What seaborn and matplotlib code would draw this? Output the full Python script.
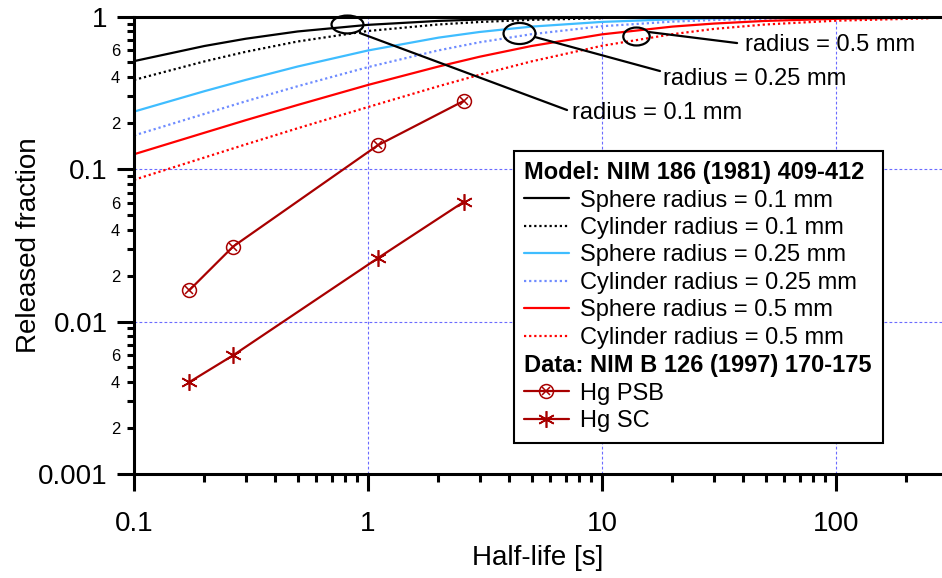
import numpy as np
import matplotlib
matplotlib.use('Agg')
import matplotlib.pyplot as plt
import seaborn as sns
from matplotlib.lines import Line2D
from matplotlib.path import Path
from matplotlib.transforms import Affine2D
from matplotlib.legend_handler import HandlerTuple
from matplotlib.ticker import FixedLocator, FuncFormatter, NullFormatter

# model curves: half-life [s] -> released fraction
t_r010 = [0.1, 0.2, 0.3, 0.5, 1, 2, 3, 5, 10]
sphere_r010 = [0.510, 0.641, 0.715, 0.798, 0.882, 0.936, 0.956, 0.973, 0.986]
cylinder_r010 = [0.384, 0.508, 0.587, 0.686, 0.804, 0.887, 0.921, 0.951, 0.974]

t_r025 = [0.1, 0.2, 0.3, 0.5, 1, 2, 3, 5, 10, 20, 30, 62.5]
sphere_r025 = [0.238, 0.324, 0.384, 0.470, 0.599, 0.727, 0.792, 0.859, 0.922, 0.959, 0.972, 0.986]
cylinder_r025 = [0.166, 0.230, 0.278, 0.349, 0.466, 0.600, 0.678, 0.766, 0.864, 0.926, 0.949, 0.974]

t_r050 = [0.1, 0.2, 0.3, 0.5, 1, 2, 3, 5, 10, 20, 30, 50, 100, 250]
sphere_r050 = [0.125, 0.173, 0.209, 0.263, 0.356, 0.470, 0.545, 0.641, 0.764, 0.859, 0.899, 0.936, 0.966, 0.986]
cylinder_r050 = [0.085, 0.119, 0.145, 0.185, 0.255, 0.349, 0.415, 0.508, 0.643, 0.766, 0.829, 0.887, 0.939, 0.974]

# measured data
hg_halflife = [0.172, 0.265, 1.10, 2.57]
hg_psb = [0.016, 0.031, 0.143, 0.28]
hg_sc = [0.0040, 0.0060, 0.026, 0.061]

legend_labels = [
    'Model: NIM 186 (1981) 409-412',
    'Sphere radius = 0.1 mm',
    'Cylinder radius = 0.1 mm',
    'Sphere radius = 0.25 mm',
    'Cylinder radius = 0.25 mm',
    'Sphere radius = 0.5 mm',
    'Cylinder radius = 0.5 mm',
    'Data: NIM B 126 (1997) 170-175',
    'Hg PSB',
    'Hg SC',
]

# annotation ellipses, leader lines and texts
ell_x = [0.813, 4.42, 13.97]
ell_y = [0.893, 0.779, 0.745]
ell_size = [23, 23, 19]
ell_aspect = [0.56, 0.66, 0.68]
lead_x = [(0.924, 7.09), (5.17, 17.7), (15.9, 37.8)]
lead_y = [(0.779, 0.2437), (0.734, 0.439), (0.791, 0.670)]
ann_text = ['radius = 0.1 mm', 'radius = 0.25 mm', 'radius = 0.5 mm']
ann_x = [7.44, 18.2, 40.8]
ann_y = [0.233, 0.389, 0.650]

BLACK = '#000000'
SKY = '#3fbdff'
PERI = '#6f8cff'
RED = '#ff0000'
DARKRED = '#a80000'
GRID = '#6b6bff'
DOT = (0, (1, 1.3))

sns.set_theme(style='white')
plt.rcParams['font.family'] = ['Liberation Sans', 'DejaVu Sans']
plt.rcParams['text.color'] = 'black'
plt.rcParams['axes.labelcolor'] = 'black'

fig = plt.figure(figsize=(9.42, 5.78), dpi=100)
ax = fig.add_axes([0.1423, 0.1799, 0.8577, 0.7915])
ax.set_xscale('log')
ax.set_yscale('log')

curves = [
    (t_r010, sphere_r010, BLACK, '-'),
    (t_r010, cylinder_r010, BLACK, DOT),
    (t_r025, sphere_r025, SKY, '-'),
    (t_r025, cylinder_r025, PERI, DOT),
    (t_r050, sphere_r050, RED, '-'),
    (t_r050, cylinder_r050, RED, DOT),
]
for t, f, c, ls in curves:
    sns.lineplot(x=t, y=f, ax=ax, color=c, linestyle=ls, linewidth=1.6, sort=False)

# data series
sns.lineplot(x=hg_halflife, y=hg_psb, ax=ax, color=DARKRED, linewidth=1.6, marker='o',
             markersize=10, mfc='none', mec=DARKRED, mew=1.1, sort=False)
ax.plot(hg_halflife, hg_psb, ls='none', marker='x', ms=6, mec=DARKRED, mew=1.1)
sns.lineplot(x=hg_halflife, y=hg_sc, ax=ax, color=DARKRED, linewidth=1.6, marker=(6, 2, 0),
             markersize=12, mec=DARKRED, mew=1.2, sort=False)

# annotations
for i in range(3):
    ell = Path.unit_circle().transformed(Affine2D().scale(1, ell_aspect[i]))
    ax.plot([ell_x[i]], [ell_y[i]], ls='none', marker=ell, ms=ell_size[i],
            mfc='none', mec=BLACK, mew=1.6, clip_on=False, zorder=5)
    ax.plot(lead_x[i], lead_y[i], color=BLACK, lw=1.6, zorder=5)
    ax.text(ann_x[i], ann_y[i], ann_text[i], fontsize=17, ha='left', va='center')

ax.set_xlim(0.1, 284)
ax.set_ylim(0.001, 1)

# axes styling
for side in ['left', 'bottom', 'top']:
    ax.spines[side].set_linewidth(2.2)
    ax.spines[side].set_color(BLACK)
ax.spines['right'].set_visible(False)

ax.xaxis.set_major_locator(FixedLocator([0.1, 1, 10, 100]))
ax.xaxis.set_major_formatter(FuncFormatter(lambda v, p: f'{v:g}'))
ax.xaxis.set_minor_locator(FixedLocator([m * 10.0 ** e for e in range(-1, 3) for m in range(2, 10)]))
ax.xaxis.set_minor_formatter(NullFormatter())

ax.yaxis.set_major_locator(FixedLocator([0.001, 0.01, 0.1, 1]))
ax.yaxis.set_major_formatter(FuncFormatter(lambda v, p: f'{v:g}'))
ax.yaxis.set_minor_locator(FixedLocator([m * 10.0 ** e for e in range(-3, 0) for m in range(2, 10)]))


def minor_label(v, pos):
    m = int(round(v / 10 ** np.floor(np.log10(v) + 1e-9)))
    return str(m) if m in (2, 4, 6) else ''


ax.yaxis.set_minor_formatter(FuncFormatter(minor_label))

ax.tick_params(which='both', direction='out', bottom=True, left=True, top=False, right=False,
               color=BLACK, width=2.2, labelcolor=BLACK)
ax.tick_params(which='major', length=12.5, labelsize=20)
ax.tick_params(axis='x', which='major', pad=14)
ax.tick_params(axis='y', which='major', pad=6.5)
ax.tick_params(axis='x', which='minor', length=6)
ax.tick_params(axis='y', which='minor', length=5, labelsize=12, pad=5)

ax.grid(True, which='major', color=GRID, linestyle=(0, (2.5, 2)), linewidth=0.8)
ax.grid(False, which='minor')
ax.set_axisbelow(True)

ax.set_xlabel('Half-life [s]', fontsize=20, labelpad=6)
ax.set_ylabel('Released fraction', fontsize=20, labelpad=-3)

# legend
blank = Line2D([], [], linestyle='none')
handles = [
    blank,
    Line2D([], [], color=BLACK, lw=1.6),
    Line2D([], [], color=BLACK, lw=1.6, linestyle=DOT),
    Line2D([], [], color=SKY, lw=1.6),
    Line2D([], [], color=PERI, lw=1.6, linestyle=DOT),
    Line2D([], [], color=RED, lw=1.6),
    Line2D([], [], color=RED, lw=1.6, linestyle=DOT),
    blank,
    (Line2D([], [], color=DARKRED, lw=1.6, marker='o', ms=10, mfc='none', mec=DARKRED, mew=1.1),
     Line2D([], [], ls='none', marker='x', ms=6, mec=DARKRED, mew=1.1)),
    Line2D([], [], color=DARKRED, lw=1.6, marker=(6, 2, 0), ms=12, mec=DARKRED, mew=1.2),
]
leg = ax.legend(handles, legend_labels, loc='upper left', bbox_to_anchor=(0.470, 0.707),
                borderaxespad=0, borderpad=0.45, fontsize=17, labelspacing=0.23,
                handlelength=1.87, handletextpad=0.5, numpoints=1, fancybox=False,
                framealpha=1, edgecolor=BLACK, handler_map={tuple: HandlerTuple(ndivide=1)})
leg.get_frame().set_linewidth(1.5)
for i in (0, 7):
    leg.get_texts()[i].set_fontweight('bold')
rows = leg._legend_handle_box.get_children()[0].get_children()
for i in (0, 7):
    rows[i].get_children()[0].set_width(0)
    rows[i].sep = 0

fig.savefig('out.png', dpi=100)
